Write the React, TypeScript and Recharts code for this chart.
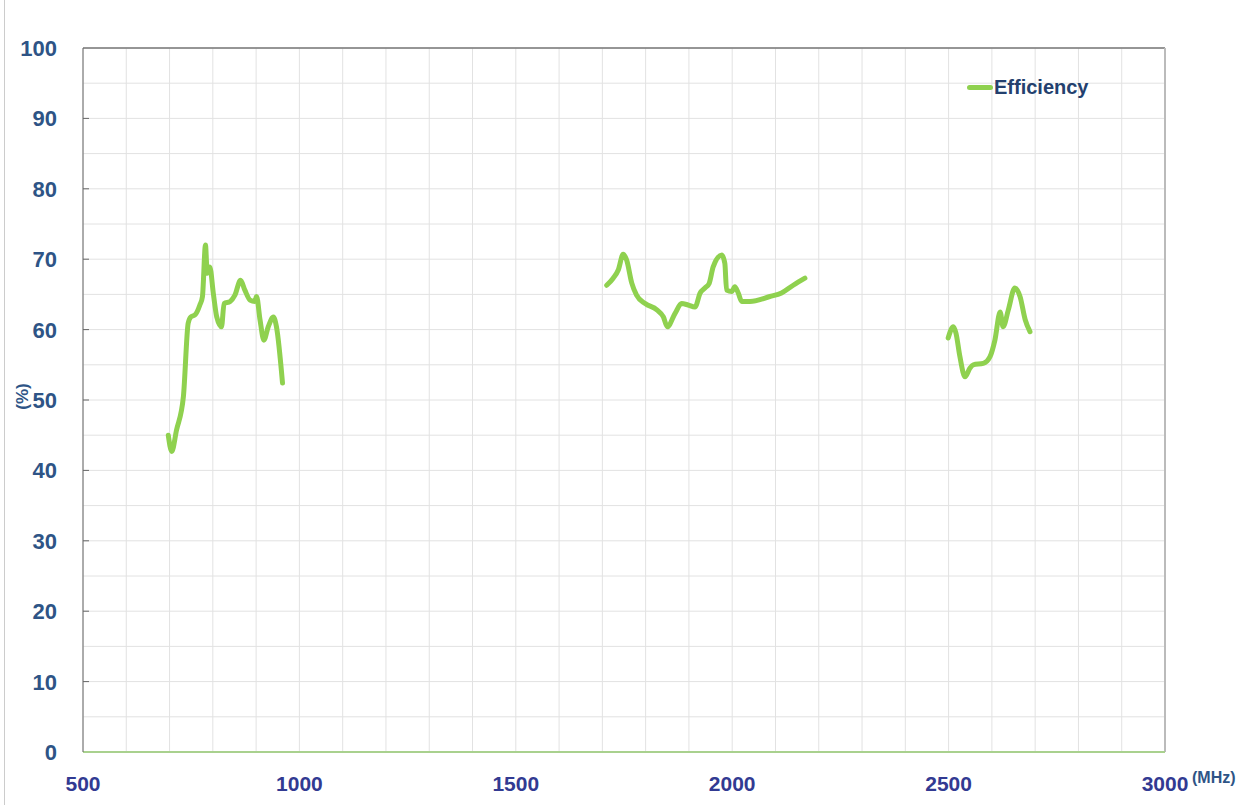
import React from 'react';
import {
  LineChart,
  Line,
  XAxis,
  YAxis,
  CartesianGrid,
  ReferenceLine,
} from 'recharts';

// frequency (MHz) / efficiency (%), one array per band
const lowBand = [
  { f: 697, v: 45.0 }, { f: 705, v: 42.7 }, { f: 716, v: 45.7 }, { f: 732, v: 50.5 },
  { f: 743, v: 60.9 }, { f: 749, v: 61.8 }, { f: 759, v: 62.1 }, { f: 770, v: 63.5 },
  { f: 776, v: 64.7 }, { f: 783, v: 72.0 }, { f: 787, v: 68.0 }, { f: 793, v: 68.9 },
  { f: 801, v: 65.2 }, { f: 809, v: 61.8 }, { f: 820, v: 60.4 }, { f: 826, v: 63.7 },
  { f: 840, v: 64.0 }, { f: 851, v: 64.9 }, { f: 864, v: 67.0 }, { f: 874, v: 65.6 },
  { f: 886, v: 64.2 }, { f: 897, v: 64.0 }, { f: 901, v: 64.7 }, { f: 909, v: 61.4 },
  { f: 918, v: 58.5 }, { f: 928, v: 60.4 }, { f: 940, v: 61.8 }, { f: 947, v: 60.4 },
  { f: 961, v: 52.4 },
];

const midBand = [
  { f: 1710, v: 66.3 }, { f: 1725, v: 67.3 }, { f: 1737, v: 68.5 }, { f: 1748, v: 70.7 },
  { f: 1756, v: 69.9 }, { f: 1768, v: 66.6 }, { f: 1779, v: 64.9 }, { f: 1799, v: 63.7 },
  { f: 1826, v: 62.8 }, { f: 1841, v: 61.8 }, { f: 1850, v: 60.4 }, { f: 1868, v: 62.3 },
  { f: 1883, v: 63.7 }, { f: 1898, v: 63.5 }, { f: 1914, v: 63.2 }, { f: 1926, v: 65.2 },
  { f: 1937, v: 65.9 }, { f: 1947, v: 66.6 }, { f: 1956, v: 68.9 }, { f: 1976, v: 70.6 },
  { f: 1983, v: 69.4 }, { f: 1987, v: 65.6 }, { f: 1999, v: 65.4 }, { f: 2006, v: 66.1 },
  { f: 2014, v: 65.2 }, { f: 2022, v: 64.0 }, { f: 2041, v: 64.0 }, { f: 2087, v: 64.7 },
  { f: 2114, v: 65.2 }, { f: 2141, v: 66.3 }, { f: 2168, v: 67.3 },
];

const highBand = [
  { f: 2499, v: 58.8 }, { f: 2511, v: 60.4 }, { f: 2517, v: 59.5 }, { f: 2526, v: 56.2 },
  { f: 2538, v: 53.3 }, { f: 2549, v: 54.5 }, { f: 2557, v: 55.0 }, { f: 2580, v: 55.2 },
  { f: 2596, v: 56.2 }, { f: 2607, v: 58.5 }, { f: 2619, v: 62.5 }, { f: 2626, v: 60.4 },
  { f: 2638, v: 62.8 }, { f: 2653, v: 65.9 }, { f: 2665, v: 64.7 }, { f: 2677, v: 61.4 },
  { f: 2688, v: 59.7 },
];

const xTicks = [500, 600, 700, 800, 900, 1000, 1100, 1200, 1300, 1400, 1500, 1600, 1700, 1800,
  1900, 2000, 2100, 2200, 2300, 2400, 2500, 2600, 2700, 2800, 2900, 3000];
const xLabels = [500, 1000, 1500, 2000, 2500, 3000];
const yTicks = [0, 5, 10, 15, 20, 25, 30, 35, 40, 45, 50, 55, 60, 65, 70, 75, 80, 85, 90, 95, 100];
const yLabels = [0, 10, 20, 30, 40, 50, 60, 70, 80, 90, 100];

const GREEN = '#8fd14f';
const NAVY = '#2e5486';
const FONT = '"Liberation Sans", Arial, sans-serif';

const YTick = (props: any) => {
  const { x, y, payload } = props;
  if (!yLabels.includes(payload.value)) return null;
  return (
    <g>
      {payload.value > 0 && payload.value < 100 && (
        <line x1={x + 26} x2={x + 32} y1={y} y2={y} stroke="#666" strokeWidth={1} />
      )}
      <text x={x} y={y} dy="0.36em" textAnchor="end" fill={NAVY}
        style={{ fontFamily: FONT, fontSize: 22, fontWeight: 'bold' }}>
        {payload.value}
      </text>
    </g>
  );
};

const XTick = (props: any) => {
  const { x, y, payload } = props;
  if (!xLabels.includes(payload.value)) return null;
  return (
    <text x={x} y={y} dy="0.72em" textAnchor="middle" fill="#323a92"
      style={{ fontFamily: FONT, fontSize: 21, fontWeight: 'bold' }}>
      {payload.value}
    </text>
  );
};

export default function App() {
  return (
    <div style={{ position: 'absolute', left: 0, top: 0, width: 1252, height: 805, background: '#fff' }}>
      <div style={{ position: 'absolute', left: 4, top: 0, width: 1, height: 805, background: '#ccc' }} />
      <LineChart width={1252} height={805} margin={{ top: 48, right: 87, bottom: 13, left: 0 }}>
        <CartesianGrid stroke="#e2e2e2" strokeWidth={1} />
        <XAxis
          dataKey="f"
          type="number"
          domain={[500, 3000]}
          ticks={xTicks}
          interval={0}
          allowDuplicatedCategory={false}
          height={40}
          tickLine={false}
          tickSize={0}
          tickMargin={24}
          stroke="#a9d18e"
          strokeWidth={2}
          tick={<XTick />}
          label={{
            content: (p: any) => {
              const vb = p.viewBox;
              return (
                <text x={vb.x + vb.width + 27} y={vb.y + 31} fill={NAVY}
                  style={{ fontFamily: FONT, fontSize: 16, fontWeight: 'bold' }}>
                  (MHz)
                </text>
              );
            },
          }}
        />
        <YAxis
          type="number"
          domain={[0, 100]}
          ticks={yTicks}
          interval={0}
          width={83}
          tickLine={false}
          tickSize={0}
          tickMargin={26}
          stroke="#666"
          tick={<YTick />}
          label={{
            content: (p: any) => {
              const vb = p.viewBox;
              const cy = vb.y + vb.height * 0.495;
              return (
                <text x={22} y={cy} transform={`rotate(-90 22 ${cy})`} textAnchor="middle"
                  dy="0.35em" fill={NAVY} style={{ fontFamily: FONT, fontSize: 17, fontWeight: 'bold' }}>
                  (%)
                </text>
              );
            },
          }}
        />
        <ReferenceLine y={100} stroke="#777" strokeWidth={1.5} />
        <ReferenceLine x={3000} stroke="#bbb" strokeWidth={2} />
        <Line data={lowBand} dataKey="v" name="Efficiency" type="monotone" stroke={GREEN}
          strokeWidth={5} dot={false} isAnimationActive={false} strokeLinecap="round" strokeLinejoin="round" />
        <Line data={midBand} dataKey="v" name="Efficiency" type="monotone" stroke={GREEN}
          strokeWidth={5} dot={false} isAnimationActive={false} strokeLinecap="round" strokeLinejoin="round" />
        <Line data={highBand} dataKey="v" name="Efficiency" type="monotone" stroke={GREEN}
          strokeWidth={5} dot={false} isAnimationActive={false} strokeLinecap="round" strokeLinejoin="round" />
      </LineChart>
      <div style={{ position: 'absolute', left: 967, top: 76, display: 'flex', alignItems: 'center', fontFamily: FONT }}>
        <span style={{ display: 'inline-block', width: 26, height: 5, borderRadius: 3, background: GREEN }} />
        <span style={{ color: '#23406e', fontSize: 20, fontWeight: 'bold', marginLeft: 1 }}>Efficiency</span>
      </div>
    </div>
  );
}
